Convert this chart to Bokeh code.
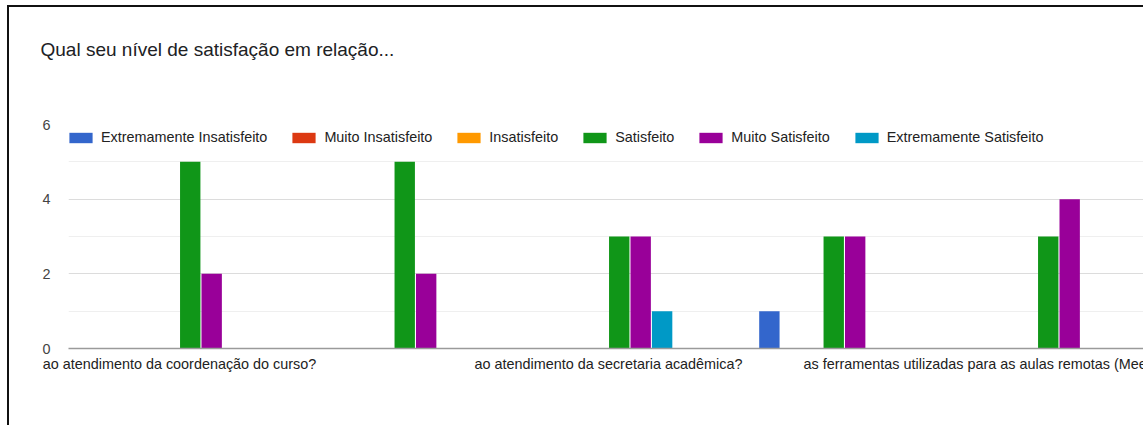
from bokeh.plotting import figure
from bokeh.models import Range1d, FixedTicker, Legend, LegendItem, Title
from bokeh.embed import file_html
from bokeh.resources import INLINE

title = "Qual seu nível de satisfação em relação..."
categories = [
    "ao atendimento da coordenação do curso?",
    "ao atendimento dos professores?",
    "ao atendimento da secretaria acadêmica?",
    "ao atendimento da biblioteca?",
    "as ferramentas utilizadas para as aulas remotas (Meet, Classroom, etc.)?",
]
shown_label_index = [0, 2, 4]
series = ["Extremamente Insatisfeito", "Muito Insatisfeito", "Insatisfeito",
          "Satisfeito", "Muito Satisfeito", "Extremamente Satisfeito"]
colors = ["#3366cc", "#dc3912", "#ff9900", "#109618", "#990099", "#0099c6"]
extremamente_insatisfeito = [0, 0, 0, 1, 0]
muito_insatisfeito = [0, 0, 0, 0, 0]
insatisfeito = [0, 0, 0, 0, 0]
satisfeito = [5, 5, 3, 3, 3]
muito_satisfeito = [2, 2, 3, 3, 4]
extremamente_satisfeito = [0, 0, 1, 0, 0]
values = [extremamente_insatisfeito, muito_insatisfeito, insatisfeito,
          satisfeito, muito_satisfeito, extremamente_satisfeito]
y_ticks = [0, 2, 4, 6]

FONT = "Liberation Sans"
# the original chart is wider than the visible window and is cropped at the right
W, H = 1300, 420

p = figure(width=W, height=H, output_backend="svg", toolbar_location=None,
           x_range=Range1d(-0.5175, 5.268), y_range=Range1d(0, 6),
           min_border_left=59, min_border_right=0, min_border_top=117,
           min_border_bottom=H - 341, outline_line_color=None)
p.styles = {"border-left": "2px solid #111", "border-top": "2px solid #111",
            "margin-left": "7px", "margin-top": "5px"}

bw = 0.1
items = []
for i, (name, vals, col) in enumerate(zip(series, values, colors)):
    xs = [k + (i - 2.5) * bw for k in range(len(categories))]
    r = p.vbar(x=xs, top=vals, width=bw * 0.95, fill_color=col, line_color=None)
    items.append(LegendItem(label=name, renderers=[r]))

legend = Legend(items=items, orientation="horizontal", location=(-2, 203),
                padding=0, margin=0, spacing=22, label_standoff=6,
                glyph_width=29, glyph_height=13, label_height=13,
                label_text_font=FONT, label_text_font_size="14.4px",
                label_text_color="#222222", background_fill_alpha=0,
                border_line_color=None)
p.add_layout(legend, "center")

# empty spacer between the plot frame and the chart title
p.add_layout(Title(text=" ", text_font_size="1px", standoff=62), "above")

p.title.text = title
p.title.text_font = FONT
p.title.text_font_size = "19px"
p.title.text_font_style = "normal"
p.title.text_color = "#202124"
p.title.align = "left"
p.title.offset = -28
p.title.standoff = 0

# axes
p.xaxis.ticker = FixedTicker(ticks=shown_label_index)
p.xaxis.major_label_overrides = {k: categories[k] for k in shown_label_index}
p.xaxis.major_tick_line_color = None
p.xaxis.major_tick_out = 0
p.xaxis.major_tick_in = 0
p.xaxis.minor_tick_line_color = None
p.xaxis.axis_line_color = "#9a9a9a"
p.xaxis.axis_line_width = 1.5
p.xaxis.major_label_text_font = FONT
p.xaxis.major_label_text_font_size = "14.4px"
p.xaxis.major_label_text_color = "#222222"
p.xaxis.major_label_standoff = 7

p.yaxis.ticker = FixedTicker(ticks=y_ticks, minor_ticks=[1, 3, 5])
p.yaxis.axis_line_color = None
p.yaxis.major_tick_line_color = None
p.yaxis.major_tick_out = 0
p.yaxis.major_tick_in = 0
p.yaxis.minor_tick_line_color = None
p.yaxis.major_label_text_font = FONT
p.yaxis.major_label_text_font_size = "14.4px"
p.yaxis.major_label_text_color = "#444444"
p.yaxis.major_label_standoff = 14

p.xgrid.grid_line_color = None
p.ygrid.grid_line_color = "#dcdcdc"
p.ygrid.minor_grid_line_color = "#efefef"

open("out.html", "w").write(file_html(p, INLINE))
